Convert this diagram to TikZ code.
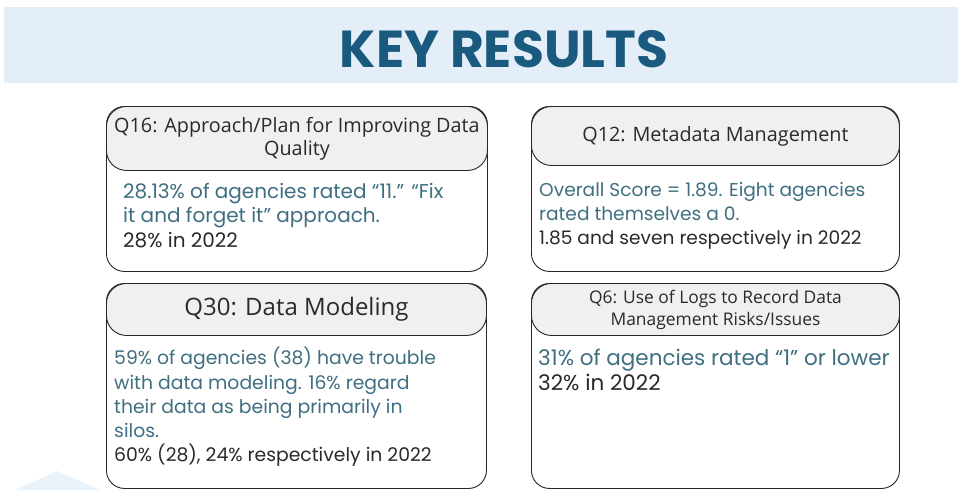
\documentclass[tikz,border=0pt]{standalone}
\usepackage{fontspec}
\setmainfont{Poppins}
\newfontfamily\headfont{Open Sans}
\newfontfamily\titlefont{Poppins}
\definecolor{band}{HTML}{E4EEF8}
\definecolor{titleblue}{HTML}{1A5A7E}
\definecolor{headgray}{HTML}{F0F0F0}
\definecolor{tealtext}{HTML}{3F6F80}
\definecolor{darktext}{HTML}{2A2A2A}
\definecolor{faint}{HTML}{EAF3FA}
\begin{document}
\begin{tikzpicture}[x=1pt,y=-1pt,
  panel/.style={draw=black!85, line width=0.9pt, rounded corners=18pt, fill=white,
    inner sep=0pt, anchor=north west},
  phead/.style={draw=black!85, line width=0.9pt, rounded corners=20pt, fill=headgray,
    inner sep=0pt, anchor=north west},
  htext/.style={font=\headfont\fontsize{19.8}{23}\selectfont, text=darktext, align=center, inner sep=0pt},
  bline/.style={font=\fontsize{18.8}{22}\selectfont, text=tealtext, anchor=base west, inner sep=0pt},
  dline/.style={bline, text=darktext}]
\useasboundingbox (0,0) rectangle (958,490);
\fill[white] (0,0) rectangle (958,490);
\fill[faint] (15,490) -- (57,471) -- (100,490) -- cycle;
% title band
\node[fill=band, minimum width=954pt, minimum height=76pt, inner sep=0pt, anchor=north west] (band) at (4,7) {};
\node[font=\titlefont\bfseries\fontsize{52}{56}\selectfont, text=titleblue, inner sep=0pt] (title) at (504,49) {KEY RESULTS};
% box 1
\node[panel, minimum width=381pt, minimum height=165pt] (b1) at (106,106) {};
\node[phead, minimum width=381pt, minimum height=64pt] (h1) at (106,106) {};
\node[htext] (h1t) at (h1.center) {Q16: Approach/Plan for Improving Data\\Quality};
\node[bline, font=\fontsize{20}{22}\selectfont] (b1l1) at (123,198) {28.13\% of agencies rated “11.” “Fix};
\node[bline, font=\fontsize{20}{22}\selectfont] (b1l2) at (123,222) {it and forget it” approach.};
\node[dline, font=\fontsize{20}{22}\selectfont] (b1l3) at (123,247) {28\% in 2022};
% box 2
\node[panel, minimum width=368pt, minimum height=165pt] (b2) at (531,106) {};
\node[phead, minimum width=368pt, minimum height=59pt] (h2) at (531,106) {};
\node[htext] (h2t) at (h2.center) {Q12: Metadata Management};
\node[bline, font=\fontsize{18.6}{22}\selectfont] (b2l1) at (539,196) {Overall Score = 1.89. Eight agencies};
\node[bline, font=\fontsize{18.6}{22}\selectfont] (b2l2) at (539,220) {rated themselves a 0.};
\node[dline, font=\fontsize{18.6}{22}\selectfont] (b2l3) at (539,244) {1.85 and seven respectively in 2022};
% box 3
\node[panel, minimum width=380pt, minimum height=205pt] (b3) at (106,283) {};
\node[phead, minimum width=380pt, minimum height=52pt] (h3) at (106,283) {};
\node[htext, font=\headfont\fontsize{24}{28}\selectfont] (h3t) at (h3.center) {Q30: Data Modeling};
\node[bline] (b3l1) at (114,364) {59\% of agencies (38) have trouble};
\node[bline] (b3l2) at (114,389) {with data modeling. 16\% regard};
\node[bline] (b3l3) at (114,413) {their data as being primarily in};
\node[bline] (b3l4) at (114,437) {silos.};
\node[dline] (b3l5) at (114,461) {60\% (28), 24\% respectively in 2022};
% box 4
\node[panel, minimum width=368pt, minimum height=205pt] (b4) at (531,283) {};
\node[phead, minimum width=368pt, minimum height=52pt] (h4) at (531,283) {};
\node[htext, font=\headfont\fontsize{17.4}{22}\selectfont] (h4t) at (h4.center) {Q6: Use of Logs to Record Data\\Management Risks/Issues};
\node[bline, font=\fontsize{21.5}{24}\selectfont] (b4l1) at (538,365) {31\% of agencies rated “1” or lower};
\node[dline, font=\fontsize{21.5}{24}\selectfont] (b4l2) at (538,390) {32\% in 2022};
\end{tikzpicture}
\end{document}
